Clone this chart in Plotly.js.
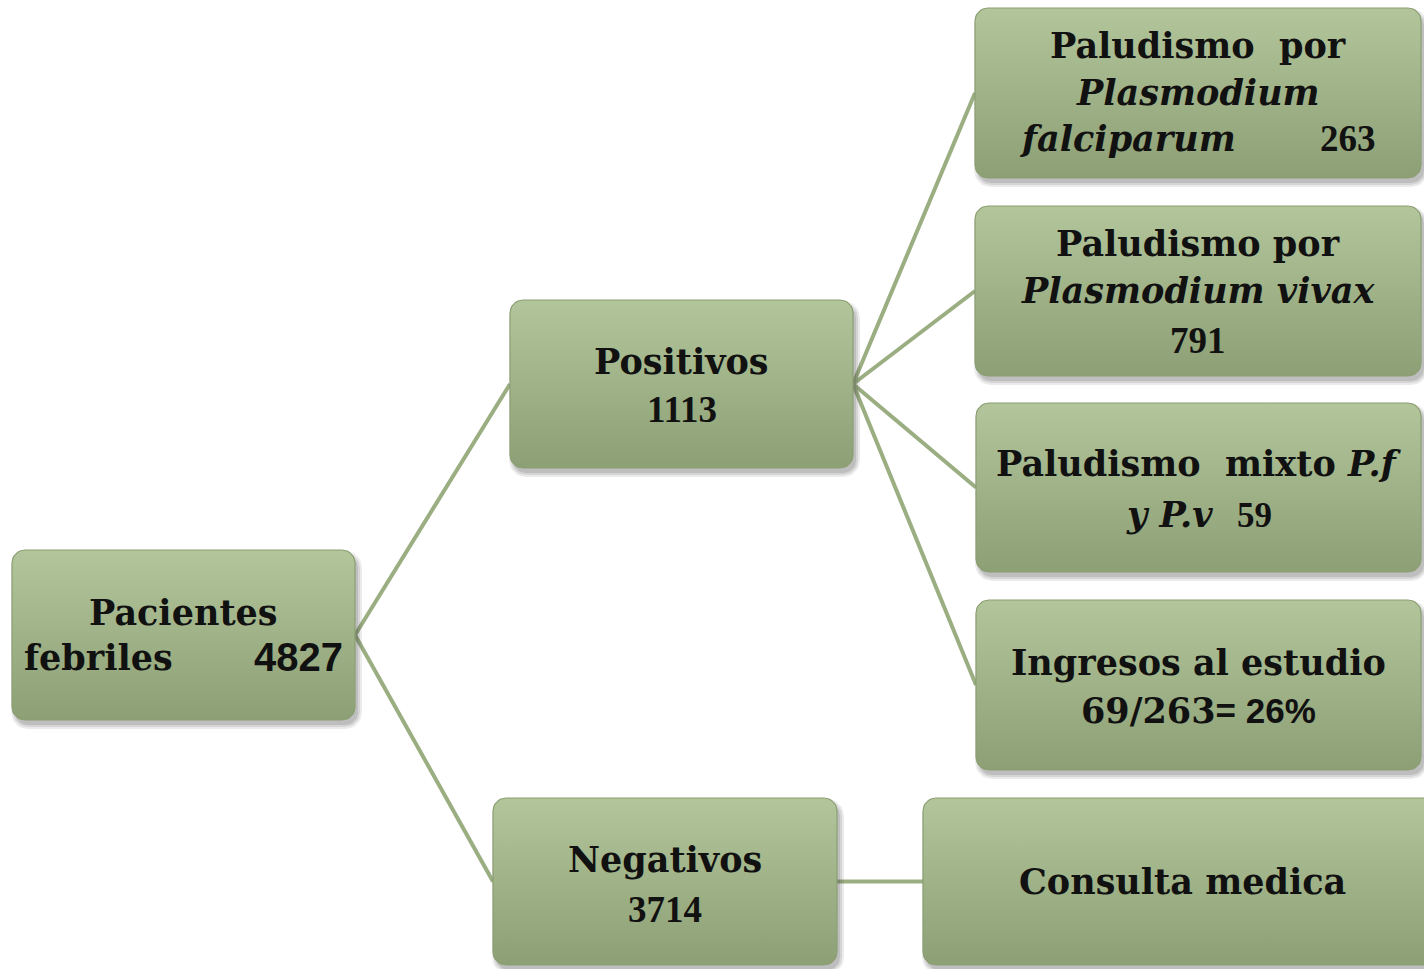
<!DOCTYPE html>
<html>
<head>
<meta charset="utf-8">
<script src="https://cdn.plot.ly/plotly-3.0.1.min.js"></script>
<style>html,body{margin:0;padding:0;background:#fff;}#chart{width:1424px;height:969px;}</style>
</head>
<body>
<div id="chart"></div>
<script>
// ---- data ----
const nodeNames = ['Pacientes febriles', 'Positivos', 'Negativos', 'Paludismo por Plasmodium falciparum', 'Paludismo por Plasmodium vivax', 'Paludismo mixto P.f y P.v', 'Ingresos al estudio', 'Consulta medica'];
const nodeValues = [4827, 1113, 3714, 263, 791, 59, null, null];
const ingresosNum = 69;
const ingresosDen = 263;
const ingresosPct = 26;
const edgeFrom = [0, 0, 1, 1, 1, 1, 2];
const edgeTo   = [1, 2, 3, 4, 5, 6, 7];

// ---- layout of boxes (pixels) ----
const boxes = [
  [12, 355, 550, 720],
  [510, 853, 300, 468],
  [493, 837, 798, 965],
  [975, 1421, 8, 178],
  [975, 1421, 206, 376],
  [976, 1421, 403, 572],
  [976, 1421, 600, 770],
  [923, 1440, 798, 965]
];
const R = 13;

function roundRect(b, dx, dy, grow) {
  const x0 = b[0] + dx - grow, x1 = b[1] + dx + grow, y0 = b[2] + dy - grow, y1 = b[3] + dy + grow;
  const r = R + grow;
  const xs = [], ys = [];
  const corners = [[x1 - r, y0 + r, -90], [x1 - r, y1 - r, 0], [x0 + r, y1 - r, 90], [x0 + r, y0 + r, 180]];
  corners.forEach(c => {
    for (let i = 0; i <= 8; i++) {
      const a = (c[2] + i * 90 / 8) * Math.PI / 180;
      xs.push(c[0] + r * Math.cos(a));
      ys.push(c[1] + r * Math.sin(a));
    }
  });
  xs.push(xs[0]); ys.push(ys[0]);
  return {xs, ys};
}

const traces = [];
// connectors
edgeFrom.forEach((f, i) => {
  const a = boxes[f], b = boxes[edgeTo[i]];
  traces.push({
    x: [a[1], b[0]], y: [(a[2] + a[3]) / 2, (b[2] + b[3]) / 2],
    mode: 'lines', line: {color: '#9BAE82', width: 4}, hoverinfo: 'skip', showlegend: false
  });
});
// shadows + boxes
boxes.forEach((b, i) => {
  [[4, 0.10], [2, 0.12], [0, 0.15]].forEach(s => {
    const p = roundRect(b, 3, 5, s[0]);
    traces.push({x: p.xs, y: p.ys, mode: 'lines', fill: 'toself', line: {width: 0, color: 'rgba(0,0,0,0)'},
      fillcolor: 'rgba(60,60,60,' + s[1] + ')', hoverinfo: 'skip', showlegend: false});
  });
  const p = roundRect(b, 0, 0, 0);
  traces.push({x: p.xs, y: p.ys, mode: 'lines', fill: 'toself', line: {width: 1.2, color: '#8C9E73'},
    fillgradient: {type: 'vertical', colorscale: [[0, '#8D9F74'], [1, '#B3C69B']]},
    hoverinfo: 'skip', showlegend: false, name: nodeNames[i]});
});

// ---- text ----
const serif = 'DejaVu Serif, Liberation Serif, serif';
const numSerif = 'Liberation Serif, serif';
const sans = 'Liberation Sans, Arial, sans-serif';
const FS = 35;
const ann = [];
function T(x, y, text, anchor, family, size) {
  ann.push({x: x, y: y, xref: 'x', yref: 'y', text: text, showarrow: false, xanchor: anchor || 'center', yanchor: 'middle',
    font: {family: family || serif, size: size || FS, color: '#111', weight: 'bold'}});
}
function cx(i) { return (boxes[i][0] + boxes[i][1]) / 2; }
function cy(i) { return (boxes[i][2] + boxes[i][3]) / 2; }
const nb = '\u00a0';
const sansSpan = s => '<span style="font-family:Liberation Sans, Arial, sans-serif">' + s + '</span>';
const numSpan = s => '<span style="font-family:Liberation Serif, serif">' + s + '</span>';

T(cx(0), cy(0) - 23, 'Pacientes');
T(22, cy(0) + 22, 'febriles', 'left');
T(345, cy(0) + 22, String(nodeValues[0]), 'right', sans, 40);

T(cx(1), cy(1) - 23, nodeNames[1]);
T(cx(1), cy(1) + 25, String(nodeValues[1]), 'center', numSerif, 37);

T(cx(2), cy(2) - 22, nodeNames[2]);
T(cx(2), cy(2) + 28, String(nodeValues[2]), 'center', numSerif, 37);

T(cx(3), cy(3) - 48, 'Paludismo' + nb + nb + 'por');
T(cx(3), cy(3) - 1, '<i>Plasmodium</i>');
T(1017, cy(3) + 45, '<i>falciparum</i>', 'left');
T(1378, cy(3) + 45, String(nodeValues[3]), 'right', numSerif, 37);

T(cx(4), cy(4) - 48, 'Paludismo por');
T(cx(4), cy(4) - 1, '<i>Plasmodium vivax</i>');
T(cx(4), cy(4) + 49, String(nodeValues[4]), 'center', numSerif, 37);

T(cx(5), cy(5) - 24, 'Paludismo' + nb + nb + 'mixto <i>P.f</i>');
T(cx(5), cy(5) + 27, '<i>y P.v</i>' + nb + nb + numSpan(String(nodeValues[5])));

T(cx(6), cy(6) - 23, nodeNames[6]);
T(cx(6), cy(6) + 25, ingresosNum + '/' + ingresosDen + sansSpan('= ' + ingresosPct + '%'));

T(1182, cy(7), nodeNames[7]);

const layout = {
  width: 1424, height: 969,
  margin: {l: 0, r: 0, t: 0, b: 0},
  paper_bgcolor: '#ffffff', plot_bgcolor: '#ffffff',
  xaxis: {range: [0, 1424], visible: false, fixedrange: true},
  yaxis: {range: [969, 0], visible: false, fixedrange: true},
  annotations: ann,
  showlegend: false
};
Plotly.newPlot('chart', traces, layout, {staticPlot: true});
</script>
</body>
</html>
